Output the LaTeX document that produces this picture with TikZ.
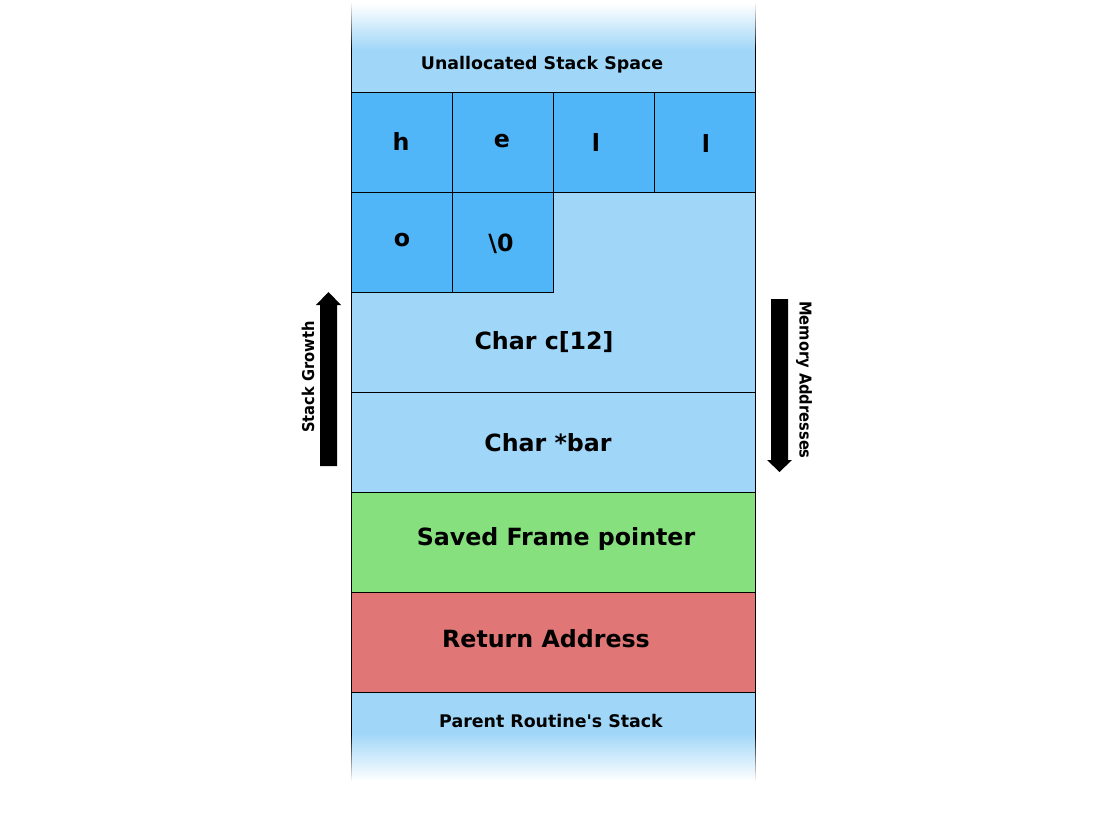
\documentclass[tikz,border=0pt]{standalone}
\usepackage{fontspec}
\setmainfont{DejaVu Sans}
\newfontfamily\condfont{DejaVu Sans Condensed}
\definecolor{lightblue}{HTML}{A0D6F8}
\definecolor{midblue}{HTML}{50B6F8}
\definecolor{framegreen}{HTML}{86E07D}
\definecolor{retred}{HTML}{E07675}
\begin{document}
\begin{tikzpicture}[x=1pt,y=-1pt,
  cell/.style={draw=black,line width=0.9pt},
  big/.style={font=\bfseries\fontsize{23.7}{27}\selectfont,inner sep=0pt},
  small/.style={font=\bfseries\fontsize{17.4}{20}\selectfont,inner sep=0pt},
  side/.style={font=\condfont\bfseries\fontsize{16.3}{19}\selectfont,inner sep=0pt},
  bigarrow/.style={fill=black}]
\useasboundingbox (0,0) rectangle (1100,816);
\fill[white] (0,0) rectangle (1100,816);
% top fading region
\shade[top color=white,bottom color=lightblue] (351,3) rectangle (755,50);
\fill[lightblue] (351,50) rectangle (755,92);
% bottom fading region
\fill[lightblue] (351,692) rectangle (755,733);
\shade[top color=lightblue,bottom color=white] (351,733) rectangle (755,781);
% fading side lines
\foreach \i in {0,...,23}{
  \pgfmathsetmacro{\pc}{100*(\i+1)/24}
  \draw[line width=0.9pt,black!\pc!white] (351,3+2*\i) -- (351,5.2+2*\i) (755,3+2*\i) -- (755,5.2+2*\i);
  \draw[line width=0.9pt,black!\pc!white] (351,781-2*\i) -- (351,778.8-2*\i) (755,781-2*\i) -- (755,778.8-2*\i);
}
\draw[cell] (351,50) -- (351,92) (755,50) -- (755,92);
\draw[cell] (351,692) -- (351,733.5) (755,692) -- (755,733.5);
% char array area
\draw[cell,fill=lightblue] (351,192) rectangle (755,392);
\draw[cell,fill=midblue] (351,92) rectangle (452,192);
\draw[cell,fill=midblue] (452,92) rectangle (553,192);
\draw[cell,fill=midblue] (553,92) rectangle (654,192);
\draw[cell,fill=midblue] (654,92) rectangle (755,192);
\draw[cell,fill=midblue] (351,192) rectangle (452,292);
\draw[cell,fill=midblue] (452,192) rectangle (553,292);
\draw[cell,fill=lightblue] (351,392) rectangle (755,492);
\draw[cell,fill=framegreen] (351,492) rectangle (755,592);
\draw[cell,fill=retred] (351,592) rectangle (755,692);
% texts
\node[small] (unalloc) at (542,65) {Unallocated Stack Space};
\node[big] (ch) at (401,141) {h};
\node[big] (ce) at (502,141) {e};
\node[big] (cl1) at (596,142) {l};
\node[big] (cl2) at (706,143) {l};
\node[big] (co) at (402,240) {o};
\node[big] (cz) at (501,244) {\textbackslash0};
\node[big] (cbuf) at (544,342) {Char c[12]};
\node[big] (cbar) at (548,443) {Char *bar};
\node[big] (sfp) at (556,539) {Saved Frame pointer};
\node[big] (ret) at (546,639) {Return Address};
\node[small] (parent) at (551,721) {Parent Routine\textquotesingle s Stack};
% side arrows
\fill[bigarrow] (320,466) -- (320,305) -- (316,305) -- (328.5,292) -- (341,305) -- (337,305) -- (337,466) -- cycle;
\fill[bigarrow] (771,299) -- (788,299) -- (788,460) -- (792,460) -- (779.5,472) -- (767,460) -- (771,460) -- cycle;
\node[side,rotate=90] (growth) at (308,377) {Stack Growth};
\node[side,rotate=-90] (memaddr) at (804,380) {Memory Addresses};
\end{tikzpicture}
\end{document}
